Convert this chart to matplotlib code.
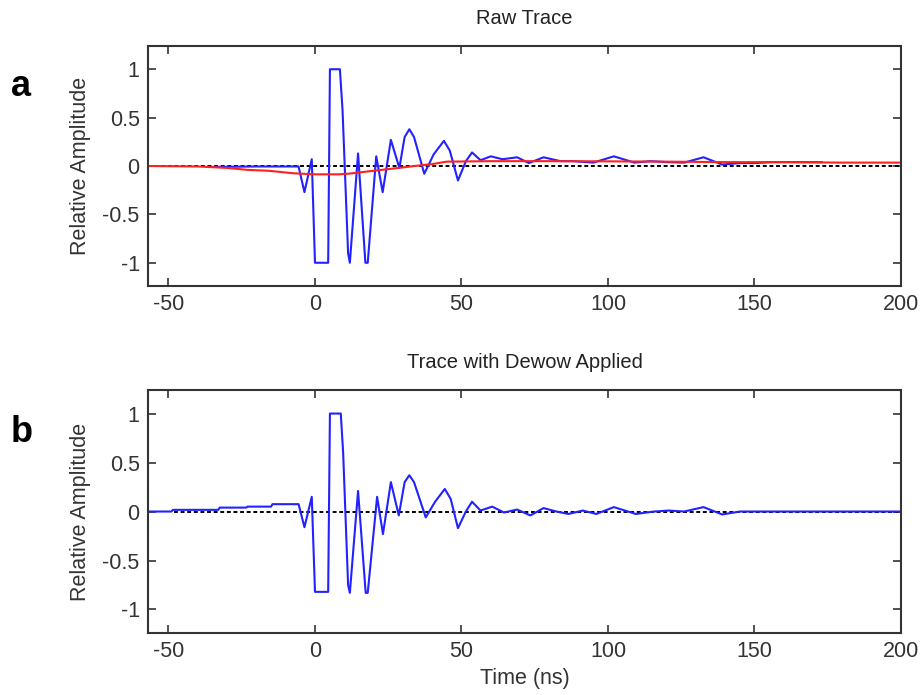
import numpy as np
import matplotlib.pyplot as plt

plt.rcParams['font.family'] = ['Liberation Sans', 'DejaVu Sans']

# raw trace (blue, panel a)
raw_t = [-36.7, -20.0, -5.6, -3.6, -1.1, 0.0, 4.5, 5.1, 8.5, 9.4, 11.3, 11.9,
         14.7, 17.2, 18.0, 20.9, 23.1, 25.9, 28.8, 30.6, 32.2, 33.8, 37.3,
         40.5, 44.0, 46.0, 48.8, 51.5, 53.6, 56.5, 60.0, 64.0, 69.0, 73.0,
         78.0, 83.8, 88.0, 95.0, 102.0, 109.0, 114.5, 120.0, 126.0, 132.6,
         139.0, 145.0, 150.0, 156.0, 162.0, 168.0, 173.0]
raw_v = [-0.01, -0.005, -0.005, -0.27, 0.07, -1.0, -1.0, 1.0, 1.0, 0.58, -0.9, -1.0,
         0.13, -1.0, -1.0, 0.1, -0.27, 0.27, -0.02, 0.3, 0.38, 0.3, -0.08,
         0.12, 0.26, 0.16, -0.15, 0.05, 0.14, 0.06, 0.1, 0.07, 0.09, 0.03,
         0.09, 0.05, 0.05, 0.035, 0.1, 0.035, 0.05, 0.04, 0.035, 0.09,
         0.015, 0.03, 0.03, 0.04, 0.04, 0.04, 0.04]

# low-frequency "wow" (red, panel a)
wow_t = [-57, -40, -30, -23, -15.5, -7.5, 0, 8, 11.3, 17, 22.7, 28.5, 34, 40,
         45, 60, 80, 100, 120, 140, 160, 180, 200]
wow_v = [0.0, -0.005, -0.02, -0.04, -0.05, -0.075, -0.086, -0.086, -0.08,
         -0.06, -0.04, -0.02, 0.0, 0.02, 0.045, 0.05, 0.05, 0.048, 0.045,
         0.04, 0.04, 0.035, 0.035]

# dewowed trace (blue, panel b)
dew_t = [-56.4, -49.0, -48.5, -33.0, -32.5, -23.5, -23.0, -15.0, -14.5, -5.6,
         -3.6, -1.1, 0.0, 4.5, 5.1, 8.8, 9.6, 11.3, 11.9, 14.7, 17.3, 18.0,
         21.2, 23.2, 25.9, 28.6, 30.6, 32.2, 33.8, 37.8, 41.0, 44.3, 46.3,
         48.8, 51.5, 53.6, 56.5, 60.5, 64.5, 69.0, 73.5, 78.0, 82.4, 86.5,
         91.4, 96.0, 102.0, 109.5, 115.7, 120.8, 126.0, 132.6, 139.0, 145.0, 200.0]
dew_v = [0.0, 0.0, 0.017, 0.017, 0.04, 0.04, 0.05, 0.05, 0.075, 0.075,
         -0.16, 0.15, -0.82, -0.82, 1.0, 1.0, 0.61, -0.75, -0.83, 0.21, -0.83, -0.83,
         0.15, -0.23, 0.3, -0.04, 0.3, 0.37, 0.3, -0.06, 0.1, 0.23, 0.13,
         -0.17, 0.0, 0.1, 0.01, 0.05, -0.01, 0.02, -0.04, 0.035, 0.0, -0.025,
         0.01, -0.025, 0.045, -0.025, 0.0, 0.01, 0.0, 0.045, -0.03, 0.0, 0.0]

xticks = [-50, 0, 50, 100, 150, 200]
yticks = [-1, -0.5, 0, 0.5, 1]
yticklabels = ['-1', '-0.5', '0', '0.5', '1']

fig = plt.figure(figsize=(9.22, 6.95), dpi=100)
ax1 = fig.add_axes([0.1605, 0.5885, 0.8167, 0.3453])
ax2 = fig.add_axes([0.1605, 0.0892, 0.8167, 0.3496])


def style(ax, title):
    ax.set_xlim(-57, 200)
    ax.set_ylim(-1.24, 1.24)
    ax.set_xticks(xticks)
    ax.set_xticklabels([str(x) for x in xticks])
    ax.set_yticks(yticks)
    ax.set_yticklabels(yticklabels)
    ax.tick_params(direction='in', length=6, width=1.2, top=True, right=True,
                   labelsize=15.5, colors='#333333', pad=6)
    for s in ax.spines.values():
        s.set_linewidth(1.5)
        s.set_color('#333333')
    ax.set_ylabel('Relative Amplitude', fontsize=15.5, color='#333333', labelpad=8)
    ax.set_title(title, fontsize=14.5, color='#222222', pad=16)


ax1.plot([-57, 200], [0, 0], color='black', ls=(0, (2, 1.4)), lw=1.4)
ax1.plot(raw_t, raw_v, color='#2222ff', lw=1.5)
ax1.plot(wow_t, wow_v, color='#ff2020', lw=1.5)
style(ax1, 'Raw Trace')

ax2.plot([-48, 200], [0, 0], color='black', ls=(0, (2, 1.4)), lw=1.4)
ax2.plot(dew_t, dew_v, color='#2222ff', lw=1.5)
style(ax2, 'Trace with Dewow Applied')
ax2.set_xlabel('Time (ns)', fontsize=15.5, color='#333333', labelpad=4)

fig.text(0.012, 0.875, 'a', fontsize=26, fontweight='bold', va='center')
fig.text(0.012, 0.378, 'b', fontsize=26, fontweight='bold', va='center')

fig.savefig('out.png', dpi=100)
